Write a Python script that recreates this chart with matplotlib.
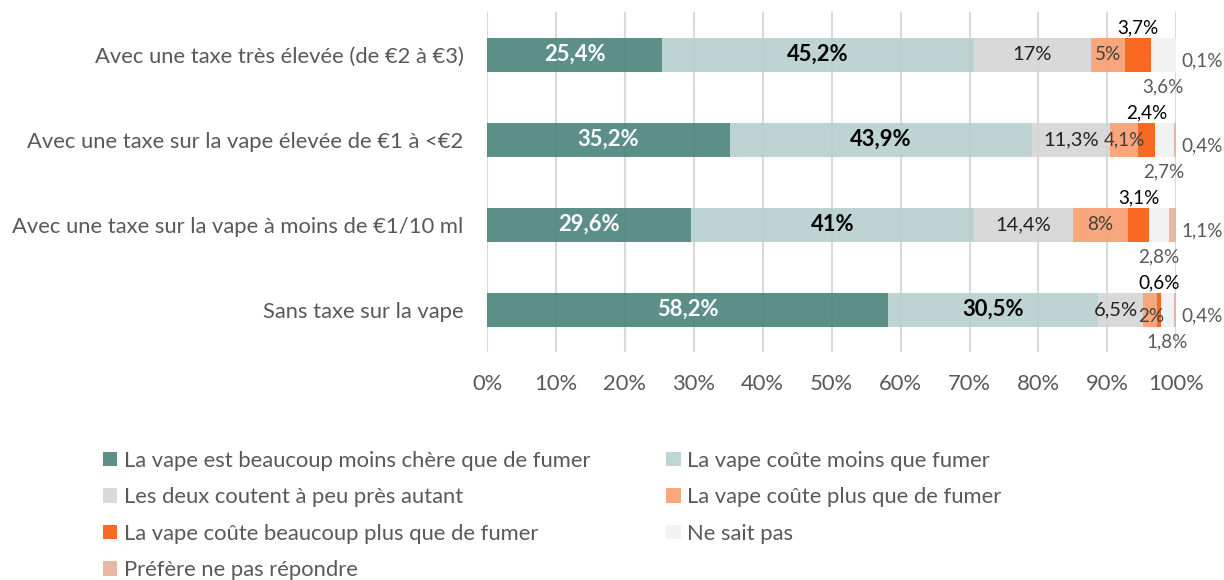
import matplotlib
matplotlib.use("Agg")
import matplotlib.pyplot as plt
from matplotlib.patches import Patch

plt.rcParams['font.family'] = ['Lato', 'DejaVu Sans']

categories = [
    "Avec une taxe très élevée (de €2 à €3)",
    "Avec une taxe sur la vape élevée de €1 à <€2",
    "Avec une taxe sur la vape à moins de €1/10 ml",
    "Sans taxe sur la vape",
]
series_names = [
    "La vape est beaucoup moins chère que de fumer",
    "La vape coûte moins que fumer",
    "Les deux coutent à peu près autant",
    "La vape coûte plus que de fumer",
    "La vape coûte beaucoup plus que de fumer",
    "Ne sait pas",
    "Préfère ne pas répondre",
]
much_cheaper = [25.4, 35.2, 29.6, 58.2]
cheaper = [45.2, 43.9, 41.0, 30.5]
same = [17.0, 11.3, 14.4, 6.5]
more = [5.0, 4.1, 8.0, 2.0]
much_more = [3.7, 2.4, 3.1, 0.6]
dont_know = [3.6, 2.7, 2.8, 1.8]
no_answer = [0.1, 0.4, 1.1, 0.4]
xticks = [0, 10, 20, 30, 40, 50, 60, 70, 80, 90, 100]

series = [much_cheaper, cheaper, same, more, much_more, dont_know, no_answer]
colors = ['#49837A', '#B6D0CE', '#D5D5D5', '#F89D6E', '#F95909', '#F1F1F1', '#E5B09B']
legend_colors = ['#5B8F87', '#BDD5D3', '#D9D9D9', '#F9A77D', '#FA6A22', '#F2F2F2', '#E8B8A5']

def fmt(v):
    s = ('%.1f' % v)
    if s.endswith('.0'):
        s = s[:-2]
    return s.replace('.', ',') + '%'

fig = plt.figure(figsize=(12.24, 5.8), dpi=100)
ax = fig.add_axes([0.398, 0.393, 0.563, 0.586])

ypos = list(range(len(categories)))
TXT = '#595959'
FS = 15.8
FSS = 13.6
left = [0.0] * len(categories)
for si, (vals, col) in enumerate(zip(series, colors)):
    ax.barh(ypos, vals, left=left, height=0.4, color=col, alpha=0.9, zorder=2)
    for i, v in enumerate(vals):
        cx = left[i] + v / 2
        y = ypos[i]
        if si == 0:
            ax.text(cx, y, fmt(v), ha='center', va='center', color='white', fontsize=FS, fontweight='bold', zorder=5)
        elif si == 1:
            ax.text(cx, y, fmt(v), ha='center', va='center', color='black', fontsize=FS, fontweight='bold', zorder=5)
        elif si == 2:
            ax.text(cx - (0.7 if v < 8 else 0), y, fmt(v), ha='center', va='center', color='#222222', fontsize=14.5, zorder=5)
        elif si == 3:
            ax.text(cx + (0.2 if v < 3 else 0), y + (0.08 if v < 3 else 0), fmt(v), ha='center', va='center', color='#404040', fontsize=FSS, zorder=5)
        elif si == 4:
            ax.text(cx, y - 0.31, fmt(v), ha='center', va='center', color='black', fontsize=FSS, zorder=5)
        elif si == 5:
            ax.text(cx, y + 0.38, fmt(v), ha='center', va='center', color=TXT, fontsize=FSS, zorder=5)
        elif si == 6:
            ax.text(100.8, y + 0.07, fmt(v), ha='left', va='center', color=TXT, fontsize=FSS, zorder=5)
    left = [l + v for l, v in zip(left, vals)]

ax.set_xlim(0, 100)
ax.set_ylim(3.5, -0.5)
ax.set_xticks(xticks)
ax.set_xticklabels([f'{t}%' for t in xticks], color=TXT, fontsize=FS)
ax.set_yticks(ypos)
ax.set_yticklabels(categories, color=TXT, fontsize=FS)
ax.tick_params(axis='both', length=0)
ax.tick_params(axis='x', pad=16)
ax.tick_params(axis='y', pad=17)
ax.grid(axis='x', color='#D9D9D9', linewidth=1.5, zorder=0)
ax.set_axisbelow(True)
for sp in ax.spines.values():
    sp.set_visible(False)

handles = [Patch(facecolor=c, edgecolor='none') for c in legend_colors]
order = [0, 2, 4, 6, 1, 3, 5]
fig.legend([handles[i] for i in order], [series_names[i] for i in order],
           ncol=2, loc='upper left', bbox_to_anchor=(0.084, 0.223), frameon=False,
           fontsize=FS, labelcolor=TXT, handlelength=0.65, handleheight=0.65,
           handletextpad=0.3, columnspacing=3.47, labelspacing=0.75, borderaxespad=0, borderpad=0)

fig.savefig('out.png', dpi=100)
